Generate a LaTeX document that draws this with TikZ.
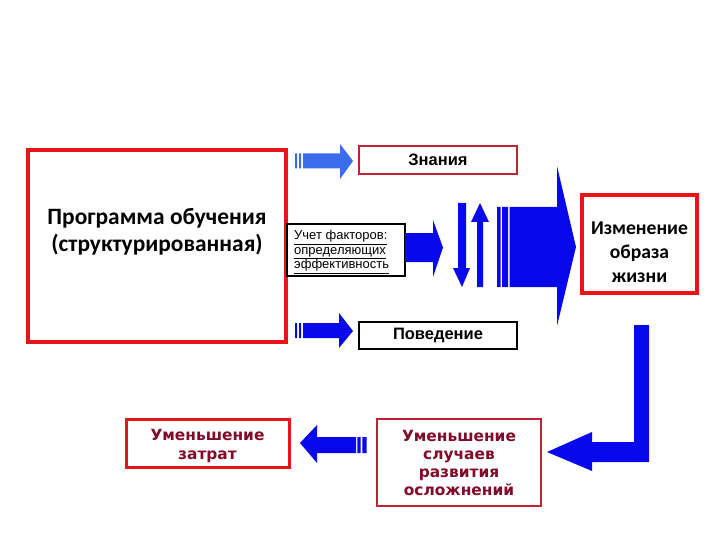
\documentclass[tikz,border=0pt]{standalone}
\usepackage{fontspec}
\setmainfont{Carlito}
\newfontfamily\arialf{Liberation Sans}
\newfontfamily\widef{DejaVu Sans}
\definecolor{mred}{RGB}{232,20,24}
\definecolor{dred}{RGB}{190,36,52}
\definecolor{maroon}{RGB}{128,10,40}
\definecolor{ablue}{RGB}{8,8,236}
\definecolor{lblue}{RGB}{58,108,236}
\tikzset{
  redbox/.style={draw=mred,line width=4pt,inner sep=0pt},
  thinred/.style={draw=dred,line width=2pt,inner sep=0pt},
  blackbox/.style={draw=black,line width=2pt,inner sep=0pt},
  botbox/.style={draw=dred,line width=2.2pt,inner sep=0pt},
  bottext/.style={inner sep=0pt,align=center,text=maroon,
    font=\widef\bfseries\fontsize{15.4}{18.3}\selectfont},
  txt/.style={inner sep=0pt,align=center},
  blk/.style={fill=ablue,draw=none}
}
\begin{document}
\begin{tikzpicture}[x=1pt,y=-1pt]
\useasboundingbox (0,0) rectangle (720,540);
\fill[white] (0,0) rectangle (720,540);

% boxes
\node[redbox,minimum width=258pt,minimum height=192pt] (prog) at (156.5,246) {};
\node[txt,font=\bfseries\fontsize{23.4}{27.5}\selectfont] (progt) at (157,232) {Программа обучения\\(структурированная)};
\node[thinred,minimum width=158pt,minimum height=28pt,font=\arialf\bfseries\fontsize{16.5}{18}\selectfont] (zn) at (438,160) {Знания};
\node[blackbox,minimum width=118pt,minimum height=52pt] (uch) at (346,250) {};
\node[txt,align=left,anchor=west,font=\arialf\fontsize{13}{14.5}\selectfont] (ucht) at (294,252) {\underline{Учет факторов:}\\\underline{определяющих}\\\underline{эффективность}};
\node[redbox,minimum width=115pt,minimum height=98pt] (izm) at (639.5,244) {};
\node[txt,font=\bfseries\fontsize{19.6}{24}\selectfont] (izmt) at (639.5,252.5) {Изменение\\образа\\жизни};
\node[blackbox,minimum width=158pt,minimum height=27pt,font=\arialf\bfseries\fontsize{16.5}{18}\selectfont] (pov) at (438,335.5) {Поведение};
\node[botbox,minimum width=164pt,minimum height=87pt] (usl) at (459,462.5) {};
\node[bottext] (uslt) at (459,463) {Уменьшение\\случаев\\развития\\осложнений};
\node[botbox,draw=mred,line width=3pt,minimum width=163pt,minimum height=48pt] (uz) at (207.5,443) {};
\node[bottext] (uzt) at (207.5,446) {Уменьшение\\затрат};

% top arrow (Знания)
\fill[lblue] (295,153.5) rectangle (297,168.5) (299,153.5) rectangle (301,168.5);
\fill[lblue] (303,153.5) -- (340,153.5) -- (340,144) -- (353,161) -- (340,179) -- (340,168.5) -- (303,168.5) -- cycle;
% arrow to Поведение
\fill[blk] (295,323) rectangle (297,338) (299,323) rectangle (301,338);
\fill[blk] (303,323) -- (339,323) -- (339,313) -- (353,331) -- (339,348) -- (339,338) -- (303,338) -- cycle;
% arrow from Учет
\fill[blk] (405,233) -- (433,233) -- (433,220) -- (443,247.5) -- (433,277) -- (433,262) -- (405,262) -- cycle;
% down arrow
\fill[blk] (458,203) -- (466,203) -- (466,268) -- (470,268) -- (462,287) -- (453,268) -- (458,268) -- cycle;
% up arrow
\fill[blk] (477,287) -- (483,287) -- (483,222) -- (489,222) -- (480,203) -- (471,222) -- (477,222) -- cycle;
% big arrow
\fill[blk] (497,207) rectangle (500.5,287) (502,207) rectangle (508,287);
\fill[blk] (509.5,207) -- (557,207) -- (557,166) -- (576,247) -- (557,326) -- (557,287) -- (509.5,287) -- cycle;
% L arrow
\fill[blk] (634,325) -- (649,325) -- (649,462) -- (592,462) -- (592,471) -- (547,452) -- (592,432) -- (592,442) -- (634,442) -- cycle;
% bottom left arrow
\fill[blk] (357.3,437) rectangle (360.7,453) (362.3,437) rectangle (366.7,453);
\fill[blk] (356,437) -- (317,437) -- (317,425) -- (300,443) -- (317,463) -- (317,453) -- (356,453) -- cycle;
\end{tikzpicture}
\end{document}
